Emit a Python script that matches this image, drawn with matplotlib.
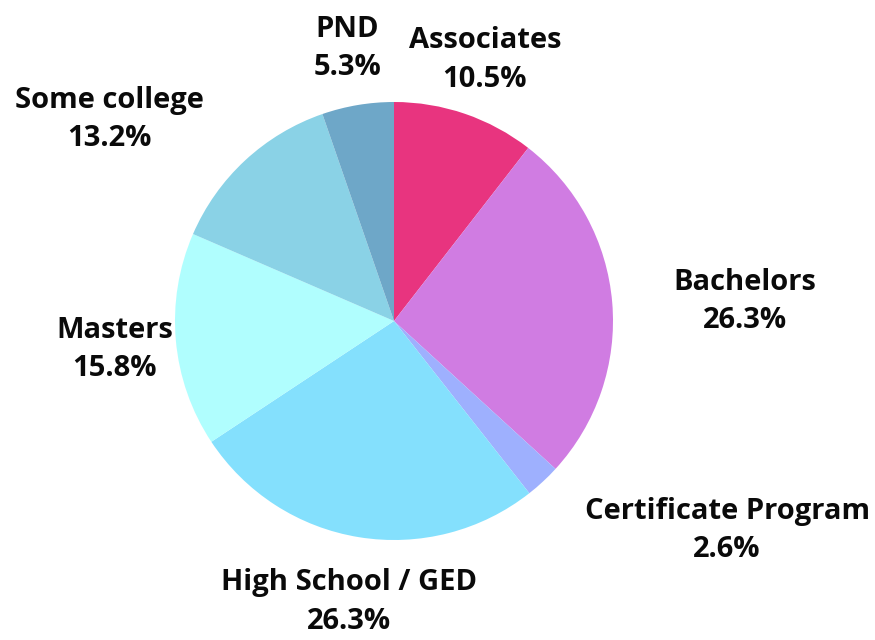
import numpy as np
import matplotlib
matplotlib.use("Agg")
import matplotlib.pyplot as plt

categories = ["Associates", "Bachelors", "Certificate Program", "High School / GED",
              "Masters", "Some college", "PND"]
values = [10.5, 26.3, 2.6, 26.3, 15.8, 13.2, 5.3]
colors = ["#E8347F", "#D07CE2", "#9EB0FE", "#84E0FD", "#B0FEFE", "#8AD2E6", "#6EA7C8"]
aligns = ["center", "left", "left", "center", "center", "right", "center"]

plt.rcParams['font.family'] = ['Open Sans', 'DejaVu Sans']

fig = plt.figure(figsize=(8.75, 6.4), dpi=100)
ax = fig.add_axes([0.2, 0.15625, 438/875, 438/640])
wedges, _ = ax.pie(values, colors=colors, startangle=90, counterclock=False,
                   radius=1.0, wedgeprops=dict(linewidth=0))
ax.set_xlim(-1, 1)
ax.set_ylim(-1, 1)
ax.set_aspect('equal')
ax.axis('off')

dist = 1.28
for w, cat, v, ha in zip(wedges, categories, values, aligns):
    ang = np.deg2rad((w.theta1 + w.theta2) / 2)
    x, y = dist * np.cos(ang), dist * np.sin(ang)
    ax.annotate(f"{cat}\n{v:.1f}%", xy=(x, y), xytext=(0, -3), textcoords="offset points",
                ha=ha, va="center", multialignment="center",
                fontsize=21, fontweight="bold", color="#0a0a0a", linespacing=1.42,
                annotation_clip=False)

fig.savefig("out.png", dpi=100)
